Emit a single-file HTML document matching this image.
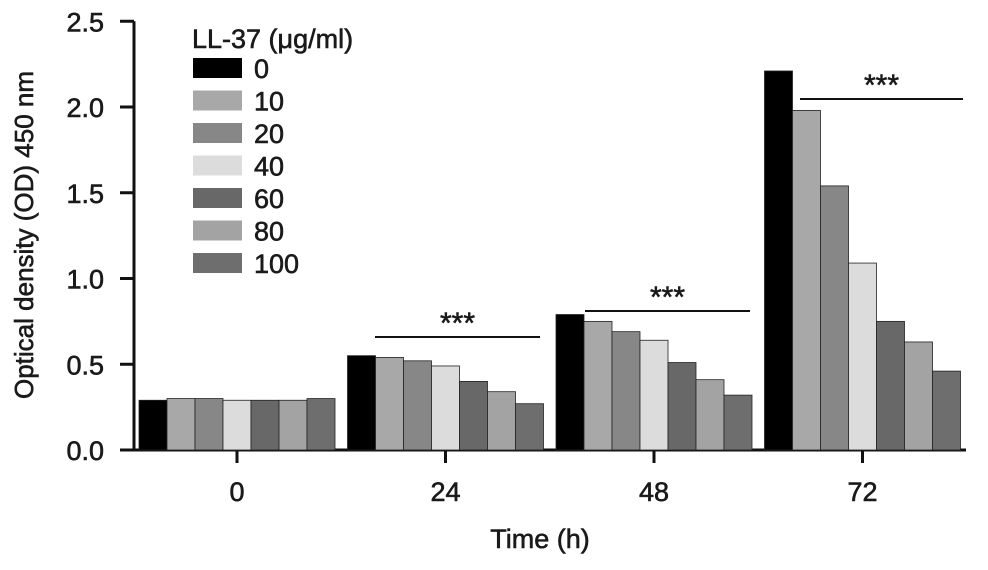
<!DOCTYPE html>
<html><head><meta charset="utf-8"><style>
body{margin:0;background:#fff}
svg text{font-family:"Liberation Sans",Arial,sans-serif;fill:#1a1a1a;stroke:#1a1a1a;stroke-width:0.6}
</style></head><body>
<svg width="988" height="565">
<g id="axes"></g><g id="bars"></g><g id="legend"></g><g id="sig"></g>
</svg>
<script>
const timepoints=["0","24","48","72"];
const doses=["0","10","20","40","60","80","100"];
const colors=["#000","#a8a8a8","#878787","#dcdcdc","#686868","#a3a3a3","#6e6e6e"];
const valsT0=[0.29,0.30,0.30,0.29,0.29,0.29,0.30];
const valsT24=[0.55,0.54,0.52,0.49,0.40,0.34,0.27];
const valsT48=[0.79,0.75,0.69,0.64,0.51,0.41,0.32];
const valsT72=[2.21,1.98,1.54,1.09,0.75,0.63,0.46];
const yTicks=["0.0","0.5","1.0","1.5","2.0","2.5"];
const series=[valsT0,valsT24,valsT48,valsT72];
const NS="http://www.w3.org/2000/svg";
function mk(p,t,a){const e=document.createElementNS(NS,t);for(const k in a)e.setAttribute(k,a[k]);p.appendChild(e);return e;}
const y=v=>450-v*171.5;
const gx=i=>237+i*208.5;
const bw=28;
const axes=document.getElementById('axes');
let yl=mk(axes,'line',{x1:134,y1:y(2.5),x2:134,y2:451,stroke:'#111','stroke-width':3});


let xl=mk(axes,'line',{x1:120,y1:450,x2:966,y2:450,stroke:'#111','stroke-width':3});


yTicks.forEach(t=>{const v=parseFloat(t);
 mk(axes,'line',{x1:120,y1:y(v),x2:134,y2:y(v),stroke:'#111','stroke-width':3});
 const tx=mk(axes,'text',{x:104,y:y(v)+10,'font-size':27,'text-anchor':'end'});tx.textContent=t;
 
 
});
timepoints.forEach((t,i)=>{
 mk(axes,'line',{x1:gx(i),y1:450,x2:gx(i),y2:463,stroke:'#111','stroke-width':3});
 const tx=mk(axes,'text',{x:gx(i),y:501,'font-size':27,'text-anchor':'middle'});tx.textContent=t;
 
 
});
let xt=mk(axes,'text',{x:540,y:548,'font-size':27,'text-anchor':'middle'});xt.textContent='Time (h)';


let ytt=mk(axes,'text',{x:0,y:0,'font-size':26,'text-anchor':'middle',transform:'translate(33,235) rotate(-90)'});ytt.textContent='Optical density (OD) 450 nm';


const bars=document.getElementById('bars');
series.forEach((s,i)=>s.forEach((v,j)=>{
 const x=gx(i)-3.5*bw+j*bw;
 const r=mk(bars,'rect',{x:x,y:y(v),width:bw,height:450-y(v),fill:colors[j],stroke:'#222','stroke-width':0.8});
 
 
}));
const lg=document.getElementById('legend');
let lt=mk(lg,'text',{x:192,y:48,'font-size':27});lt.textContent='LL-37 (\u03bcg/ml)';


doses.forEach((d,j)=>{
 const yy=68+j*32.5;
 const r=mk(lg,'rect',{x:193,y:yy-10,width:49,height:20,fill:colors[j]});
 
 
 const t=mk(lg,'text',{x:254,y:yy+10,'font-size':27});t.textContent=d;
 
 
});
const sig=document.getElementById('sig');
[[375,540,337],[585,750,311],[800,963,99]].forEach(([x1,x2,ly])=>{
 const l=mk(sig,'line',{x1:x1,y1:ly,x2:x2,y2:ly,stroke:'#111','stroke-width':2});
 
 
 const t=mk(sig,'text',{x:(x1+x2)/2,y:ly-4,'font-size':30,'text-anchor':'middle'});t.textContent='***';
 
 
});
</script>
</body></html>
